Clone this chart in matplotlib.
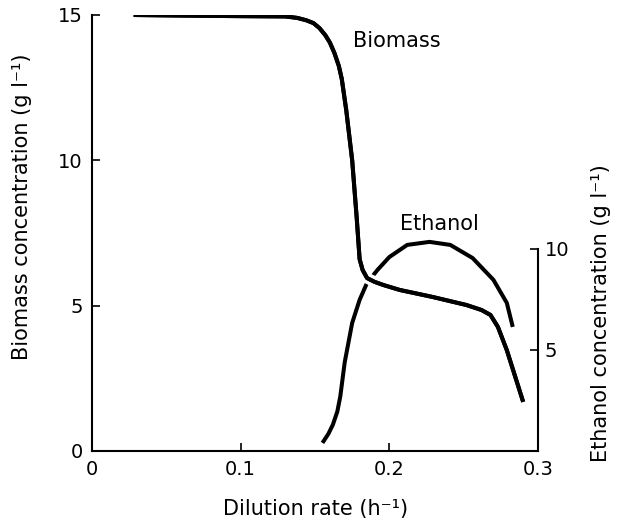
import matplotlib
matplotlib.use('Agg')
import matplotlib.pyplot as plt
import matplotlib.patheffects as pe
import numpy as np

plt.rcParams['font.family'] = ['DejaVu Sans']

# biomass curve (left axis, g/l)
bio_x = [0.028, 0.060, 0.100, 0.130, 0.138, 0.144, 0.149, 0.153, 0.157, 0.160,
         0.163, 0.166, 0.168, 0.171, 0.175, 0.178, 0.180, 0.182, 0.185, 0.190,
         0.196, 0.207, 0.229, 0.252, 0.262, 0.268, 0.273, 0.279, 0.290]
bio_y = [15.0, 14.98, 14.96, 14.95, 14.9, 14.82, 14.72, 14.55, 14.3, 14.05,
         13.7, 13.25, 12.8, 11.73, 10.0, 8.05, 6.6, 6.23, 5.95, 5.82,
         5.71, 5.54, 5.30, 5.02, 4.85, 4.68, 4.27, 3.47, 1.69]

# ethanol curve (right axis, g/l)
eth_x = [0.155, 0.159, 0.162, 0.165, 0.167, 0.170, 0.175, 0.180, 0.185, 0.192,
         0.200, 0.212, 0.227, 0.241, 0.256, 0.270, 0.279, 0.283]
eth_y = [0.40, 0.85, 1.30, 1.95, 2.70, 4.4, 6.34, 7.48, 8.32, 8.96,
         9.60, 10.2, 10.35, 10.2, 9.55, 8.47, 7.33, 6.14]

fig = plt.figure(figsize=(6.19, 5.26), dpi=100)
ax = fig.add_axes([0.1486, 0.1426, 0.7206, 0.8289])
ax2 = ax.twinx()

ax2.plot(eth_x, eth_y, color='black', lw=2.9, solid_capstyle='butt')
ax.plot(bio_x, bio_y, color='black', lw=2.9, solid_capstyle='butt',
        path_effects=[pe.withStroke(linewidth=8, foreground='white'), pe.Normal()])
ax.set_zorder(ax2.get_zorder() + 1)
ax.patch.set_visible(False)

ax.set_xlim(0, 0.3)
ax.set_ylim(0, 15)
ax2.set_ylim(0, 21.58)

ax.set_xticks([0, 0.1, 0.2, 0.3])
ax.set_xticklabels(['0', '0.1', '0.2', '0.3'])
ax.set_yticks([0, 5, 10, 15])
ax2.set_yticks([5, 10])

for s in ['top', 'right']:
    ax.spines[s].set_visible(False)
for s in ['top', 'left', 'bottom']:
    ax2.spines[s].set_visible(False)
ax2.spines['right'].set_bounds(0, 10)
for a in (ax, ax2):
    for s in a.spines.values():
        s.set_linewidth(1.5)

ax.tick_params(direction='in', length=6, width=1.2, labelsize=14, pad=6.5)
ax2.tick_params(direction='in', length=6, width=1.2, labelsize=14, pad=5)

ax.set_ylabel('Biomass concentration (g l⁻¹)', fontsize=15)
ax.yaxis.set_label_coords(-0.135, 0.56)
ax2.set_ylabel('Ethanol concentration (g l⁻¹)', fontsize=15)
ax2.yaxis.set_label_coords(1.119, 0.317)
ax.set_xlabel('Dilution rate (h⁻¹)', fontsize=15)
ax.xaxis.set_label_coords(0.502, -0.11)

ax.text(0.1755, 14.1, 'Biomass', fontsize=15, ha='left', va='center')
ax.text(0.2334, 7.8, 'Ethanol', fontsize=15, ha='center', va='center')

fig.savefig('out.png', dpi=100)
